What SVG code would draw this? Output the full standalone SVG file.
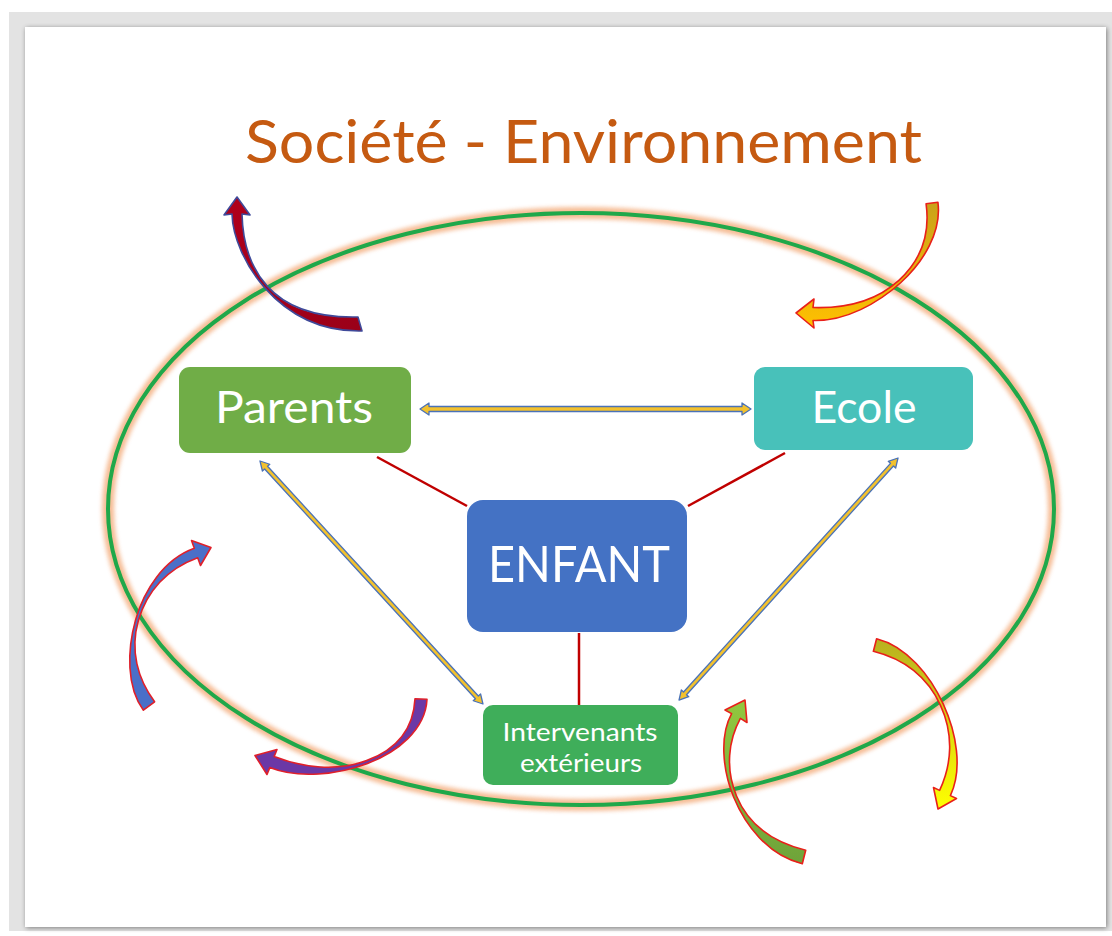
<svg xmlns="http://www.w3.org/2000/svg" width="1112" height="936" viewBox="0 0 1112 936">
<defs>
<filter id="cardShadow" x="-5%" y="-5%" width="110%" height="110%">
<feGaussianBlur in="SourceAlpha" stdDeviation="2.5"/>
<feOffset dx="1" dy="1" result="b"/>
<feComponentTransfer><feFuncA type="linear" slope="0.45"/></feComponentTransfer>
<feMerge><feMergeNode/><feMergeNode in="SourceGraphic"/></feMerge>
</filter>
<filter id="glow" x="-10%" y="-10%" width="120%" height="120%">
<feGaussianBlur stdDeviation="2"/>
</filter>
<linearGradient id="gGold" x1="0" y1="0" x2="0" y2="1">
<stop offset="0" stop-color="#c9a21a"/><stop offset="1" stop-color="#ffc000"/>
</linearGradient>
<linearGradient id="gGreen" x1="0" y1="1" x2="0" y2="0">
<stop offset="0" stop-color="#6ea33a"/><stop offset="1" stop-color="#92c83e"/>
</linearGradient>
<linearGradient id="gYellow" x1="0" y1="0" x2="0" y2="1">
<stop offset="0" stop-color="#b8b020"/><stop offset="1" stop-color="#ffff00"/>
</linearGradient>
<linearGradient id="gRed" x1="0" y1="0" x2="1" y2="1">
<stop offset="0" stop-color="#b0001c"/><stop offset="1" stop-color="#9a0018"/>
</linearGradient>
<style>
.node-text{font-family:Lato,"Open Sans","DejaVu Sans",sans-serif;fill:#ffffff;text-anchor:middle}
.redline{stroke:#c00000;stroke-width:2.5;fill:none}
.dbl{fill:#f2c12e;stroke:#4a72b8;stroke-width:1.3;stroke-linejoin:round}
.curv{stroke-width:1.6;stroke-linejoin:round}
</style>
</defs>

<g id="frame">
<rect x="0" y="0" width="1112" height="936" fill="#ffffff"/>
<rect x="9" y="12" width="1103" height="919" fill="#e3e3e3"/>
<rect x="25" y="27" width="1081" height="900" fill="#ffffff" filter="url(#cardShadow)"/>
</g>

<g id="title">
<text x="245" y="163" textLength="677" lengthAdjust="spacingAndGlyphs" font-family="Lato,'Open Sans','DejaVu Sans',sans-serif" font-size="60" fill="#c55a11">Société - Environnement</text>
</g>

<g id="environment-ellipse">
<ellipse cx="581" cy="509" rx="473" ry="296" fill="none" stroke="#f4b183" stroke-width="12" opacity="0.85" filter="url(#glow)"/>
<ellipse cx="581" cy="509" rx="473" ry="296" fill="none" stroke="#1fa84a" stroke-width="4"/>
</g>

<g id="connectors">
<polygon class="dbl" points="420,409 429,403 429,406.5 742,406.5 742,403 751,409 742,415 742,411.5 429,411.5 429,415"/>
<g transform="translate(260,461) rotate(47.46)">
<polygon class="dbl" points="0,0 9,-5 9,-2 320.8,-2 320.8,-5 329.8,0 320.8,5 320.8,2 9,2 9,5"/>
</g>
<g transform="translate(898,458) rotate(132.14)">
<polygon class="dbl" points="0,0 9,-5 9,-2 317.4,-2 317.4,-5 326.4,0 317.4,5 317.4,2 9,2 9,5"/>
</g>
<line class="redline" x1="377" y1="457" x2="467" y2="506"/>
<line class="redline" x1="785" y1="453" x2="688" y2="506"/>
<line class="redline" x1="579" y1="633" x2="579" y2="705"/>
</g>

<g id="node-parents">
<rect x="179" y="367" width="232" height="86" rx="11" fill="#70ad47"/>
<text class="node-text" x="294" y="423" font-size="44" textLength="158" lengthAdjust="spacingAndGlyphs">Parents</text>
</g>

<g id="node-ecole">
<rect x="754" y="367" width="219" height="83" rx="11" fill="#48c1ba"/>
<text class="node-text" x="864" y="423" font-size="44" textLength="105" lengthAdjust="spacingAndGlyphs">Ecole</text>
</g>

<g id="node-enfant">
<rect x="467" y="500" width="220" height="132" rx="16" fill="#4472c4"/>
<text class="node-text" x="579" y="582" font-size="51" textLength="182" lengthAdjust="spacingAndGlyphs">ENFANT</text>
</g>

<g id="node-intervenants">
<rect x="483" y="705" width="195" height="80" rx="10" fill="#3fae5a"/>
<text class="node-text" x="580" y="741" font-size="25" textLength="155" lengthAdjust="spacingAndGlyphs">Intervenants</text>
<text class="node-text" x="581" y="772" font-size="25" textLength="122" lengthAdjust="spacingAndGlyphs">extérieurs</text>
</g>

<g id="curved-arrows">
<path id="arrow-top-left" class="curv" fill="url(#gRed)" stroke="#3f4a9a" d="M362,331 C316,332 284.4,310 264.8,287.9 C245.15,265.75 232.5,236.5 232,214 L224,215 L237,197 L250,215 L242,214 C242.5,236.5 247.35,263.75 267,285.9 C286.6,308 316,318 358,317 Z"/>
<path id="arrow-top-right" class="curv" fill="url(#gGold)" stroke="#e8201a" d="M937.9,202.2 C941.9,231.7 923.5,261.85 900.9,282.5 C878.25,303.1 845.5,321.5 813,320.5 L814,328 L796,313 L814,299 L813,307.5 C845.5,308.5 876.25,300.9 898.9,280.3 C921.5,259.65 930.1,233.3 926.1,203.8 Z"/>
<path id="arrow-left" class="curv" fill="#4a6fc8" stroke="#e0202a" d="M143.4,710.2 C126.4,687.2 127.1,649.85 135.5,620.1 C143.85,590.35 163.8,559.3 194.3,548.3 L191.5,540.5 L211,547.5 L200.5,565.5 L197.7,557.7 C167.2,568.7 146.65,591.15 138.3,620.9 C129.9,650.65 137.6,678.8 154.6,701.8 Z"/>
<path id="arrow-bottom-left" class="curv" fill="#6b38a6" stroke="#e0202a" d="M427,699.3 C425.5,729.8 397.25,752.4 367.6,763.4 C338,774.4 298.8,779.1 269.8,767.6 L267,774.5 L255,755.5 L277,749.5 L274.2,756.4 C303.2,767.9 337,771.6 366.6,760.6 C396.25,749.6 413.5,729.2 415,698.7 Z"/>
<path id="arrow-bottom-middle" class="curv" fill="url(#gGreen)" stroke="#e8201a" d="M802.3,863.8 C767.8,855.3 745.1,824.85 733.7,797.2 C722.35,769.6 719.6,735.6 731.6,713.6 L725,710 L745,700 L747,722.5 L740.4,718.4 C728.4,740.4 725.15,768.4 736.5,796 C747.9,823.65 771.2,841.7 805.7,850.2 Z"/>
<path id="arrow-bottom-right" class="curv" fill="url(#gYellow)" stroke="#e8201a" d="M876.6,638.7 C906.6,646.2 930.15,675.65 943.3,704.15 C956.4,732.65 962.9,769.1 950.4,795.6 L956.5,798.5 L938,809 L933.5,787.5 L939.6,790.4 C952.1,763.9 953.6,733.85 940.5,705.35 C927.35,676.85 903.4,658.8 873.4,651.3 Z"/>
</g>
</svg>
